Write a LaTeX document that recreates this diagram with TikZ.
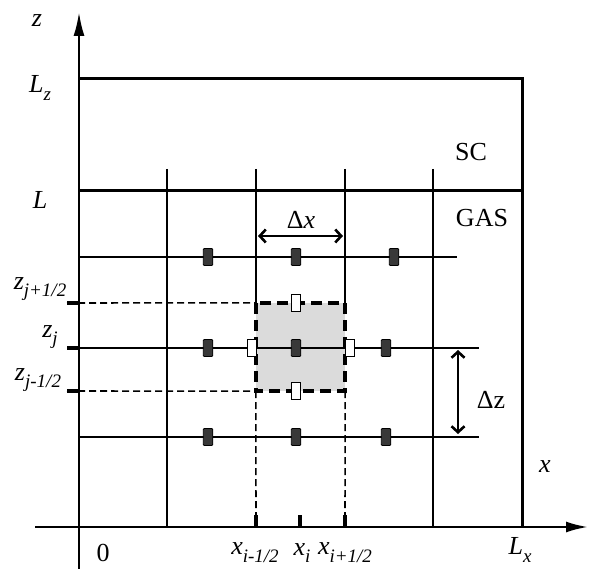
\documentclass[tikz,border=0pt]{standalone}
\usepackage{fontspec}
\setmainfont{Liberation Serif}
\usetikzlibrary{arrows.meta}
\newcommand{\lsub}[2]{\textit{#1}\raisebox{-0.3em}{\fontsize{19}{20}\selectfont\itshape #2}}
\begin{document}
\begin{tikzpicture}[x=1pt,y=-1pt,
  lbl/.style={inner sep=0pt, font=\fontsize{26}{28}\selectfont},
  fmark/.style={rectangle, rounded corners=1pt, minimum width=9.5pt, minimum height=17pt, inner sep=0pt, fill=black!78, draw=black, line width=0.8pt},
  omark/.style={rectangle, minimum width=8.5pt, minimum height=17pt, inner sep=0pt, fill=white, draw=black, line width=1.3pt},
  gridl/.style={line width=1.8pt},
  border/.style={line width=3pt},
  axis/.style={line width=2.4pt},
  tick/.style={line width=3.2pt},
  thindash/.style={line width=1.6pt, dash pattern=on 7pt off 4pt},
  boxdash/.style={line width=4pt, dash pattern=on 11pt off 6pt},
  dimarrow/.style={line width=2.6pt, {Straight Barb[length=6pt,width=13pt]}-{Straight Barb[length=6pt,width=13pt]}},
  cellfill/.style={fill=black!14, draw=none, minimum width=89pt, minimum height=88pt, inner sep=0pt},
]
\useasboundingbox (0,0) rectangle (592,569);
% shaded control volume
\node[cellfill] (cell) at (300.5,347) {};
% coordinates
\coordinate (zbot) at (79,569);
\coordinate (ztop) at (79,12);
\coordinate (xleft) at (35,527);
\coordinate (xright) at (588,527);
\coordinate (Lz0) at (79,79);
\coordinate (Lz1) at (522,79);
\coordinate (Lx) at (522,527);
\coordinate (L0) at (79,191);
\coordinate (L1) at (522,191);
% vertical grid lines
\coordinate (v1t) at (167,169); \coordinate (v1b) at (167,527);
\coordinate (v2t) at (256,169); \coordinate (v2b) at (256,303);
\coordinate (v3t) at (345,169); \coordinate (v3b) at (345,303);
\coordinate (v4t) at (433,169); \coordinate (v4b) at (433,527);
% horizontal grid lines
\coordinate (h1l) at (79,257); \coordinate (h1r) at (457,257);
\coordinate (h2l) at (67,348); \coordinate (h2r) at (479,348);
\coordinate (h3l) at (79,437); \coordinate (h3r) at (479,437);
% dashed lines
\coordinate (d1l) at (67,303); \coordinate (d2l) at (67,391);
\coordinate (a1) at (79,303); \coordinate (a2) at (79,348); \coordinate (a3) at (79,391);
\coordinate (xb1) at (256,527); \coordinate (xb2) at (345,527);
\coordinate (tk1) at (256,515); \coordinate (tk2) at (300,515); \coordinate (tk3) at (345,515);
\coordinate (tb2) at (300,527);

\draw[gridl] (v1t) -- (v1b);
\draw[gridl] (v2t) -- (v2b);
\draw[gridl] (v3t) -- (v3b);
\draw[gridl] (v4t) -- (v4b);
\draw[gridl] (h1l) -- (h1r);
\draw[gridl] (h2l) -- (h2r);
\draw[gridl] (h3l) -- (h3r);

\draw[thindash] (d1l) -- (cell.north west);
\draw[thindash] (d2l) -- (cell.south west);
\draw[thindash] (cell.south west) -- (xb1);
\draw[thindash] (cell.south east) -- (xb2);
\draw[boxdash] (cell.north west) rectangle (cell.south east);

\draw[border] (Lz0) -- (Lz1) -- (Lx);
\draw[border] (L0) -- (L1);

\draw[axis,-{Latex[length=24pt,width=11pt]}] (zbot) -- (ztop);
\draw[axis,-{Latex[length=22pt,width=11pt]}] (xleft) -- (xright);

\draw[tick] (d1l) -- (a1);
\draw[tick] (h2l) -- (a2);
\draw[tick] (d2l) -- (a3);
\draw[tick] (tk1) -- (xb1);
\draw[tick] (tk2) -- (tb2);
\draw[tick] (tk3) -- (xb2);

% markers
\node[fmark] (m11) at (208,257) {};
\node[fmark] (m12) at (296,257) {};
\node[fmark] (m13) at (394,257) {};
\node[fmark] (m21) at (208,348) {};
\node[fmark] (m22) at (296,348) {};
\node[fmark] (m23) at (386,348) {};
\node[fmark] (m31) at (208,437) {};
\node[fmark] (m32) at (296,437) {};
\node[fmark] (m33) at (386,437) {};
\node[omark] (oN) at (296,303) {};
\node[omark] (oS) at (296,391) {};
\node[omark] (oW) at (252,348) {};
\node[omark] (oE) at (350,348) {};

% dimension arrows
\coordinate (dxl) at (258,236); \coordinate (dxr) at (343,236);
\coordinate (dzt) at (458,350); \coordinate (dzb) at (458,434);
\draw[dimarrow] (dxl) -- (dxr);
\draw[dimarrow] (dzt) -- (dzb);

% labels
\node[lbl] (tz) at (37,21) {\textit{z}};
\node[lbl] (tLz) at (40,88) {\lsub{L}{z}};
\node[lbl] (tL) at (40,200) {\textit{L}};
\node[lbl] (tSC) at (471,152) {SC};
\node[lbl] (tGAS) at (482,218) {GAS};
\node[lbl] (tdx) at (301,220) {Δ\textit{x}};
\node[lbl] (tdz) at (491,400) {Δz};
\node[lbl] (tx) at (545,467) {\textit{x}};
\node[lbl] (t0) at (103,553) {0};
\node[lbl] (txm) at (255,553) {\lsub{x}{i-1/2}};
\node[lbl] (txi) at (302,553) {\lsub{x}{i}};
\node[lbl] (txp) at (345,553) {\lsub{x}{i+1/2}};
\node[lbl] (tLx) at (520,550) {\lsub{L}{x}};
\node[lbl] (tzp) at (40,289) {\lsub{z}{j+1/2}};
\node[lbl] (tzj) at (50,337) {\lsub{z}{j}};
\node[lbl] (tzm) at (38,380) {\lsub{z}{j-1/2}};
\end{tikzpicture}
\end{document}
